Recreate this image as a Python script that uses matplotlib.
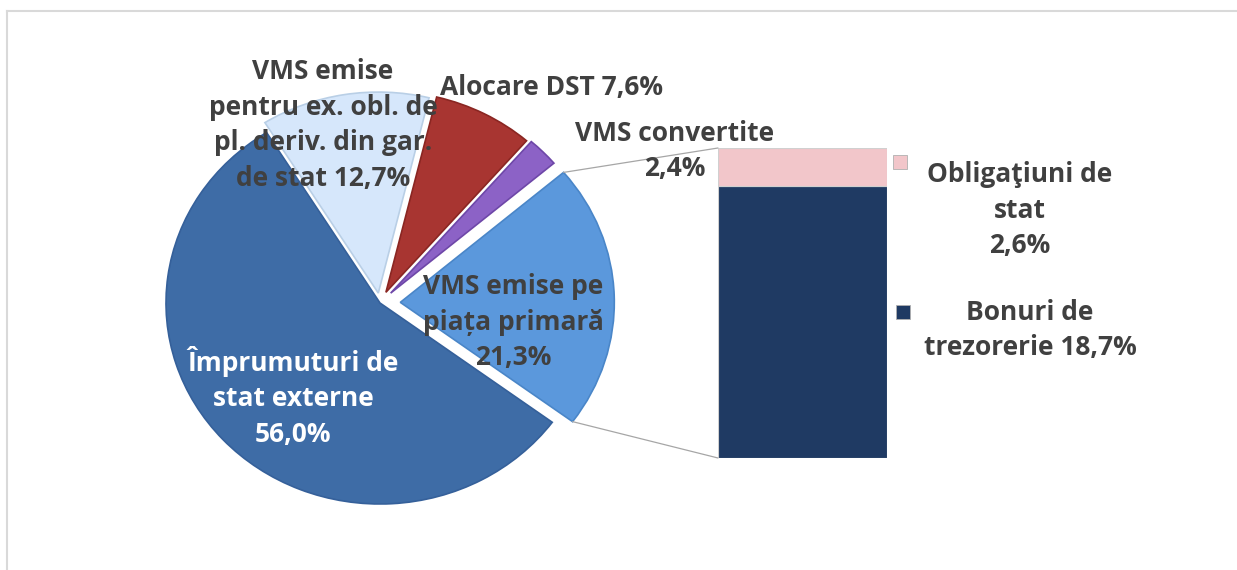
import numpy as np
import matplotlib.pyplot as plt
from matplotlib.patches import ConnectionPatch, Rectangle
from matplotlib.lines import Line2D

# Pie data (share of total, %)
pie_labels = ['Împrumuturi de\nstat externe\n56,0%',
              'VMS emise pe\npiața primară\n21,3%',
              'VMS convertite\n2,4%',
              'Alocare DST 7,6%',
              'VMS emise\npentru ex. obl. de\npl. deriv. din gar.\nde stat 12,7%']
pie_values = [56.0, 21.3, 2.4, 7.6, 12.7]
pie_colors = ['#3E6CA6', '#5B98DC', '#8C62C6', '#A83531', '#D6E7FB']
pie_edges = ['#35609A', '#4A86C8', '#6E47A8', '#8A2622', '#B9CFE6']
explode = [0.0, 0.095, 0.07, 0.06, 0.05]

# Bar breakdown of "VMS emise pe piata primara"
bar_labels = ['Bonuri de\ntrezorerie 18,7%', 'Obligaţiuni de\nstat\n2,6%']
bar_values = [18.7, 2.6]
bar_colors = ['#1F3A63', '#F2C6CA']

W, H = 1237, 570
plt.rcParams['font.family'] = ['Open Sans', 'DejaVu Sans']
fig = plt.figure(figsize=(W / 100, H / 100), dpi=100)
fig.patch.set_facecolor('white')

def fx(x):
    return x / W

def fy(y):
    return 1 - y / H

# pie axes: centre at (380, 303) px, slightly wider than tall
Rx, Ry = 214, 201
cx, cy = 380, 303
half = 1.25
ax = fig.add_axes([fx(cx - half * Rx), fy(cy + half * Ry), 2 * half * Rx / W, 2 * half * Ry / H])
wedges, _ = ax.pie(pie_values, explode=explode, colors=pie_colors, startangle=122,
                   counterclock=True, radius=1,
                   wedgeprops=dict(linewidth=1.2))
for w, ec in zip(wedges, pie_edges):
    w.set_edgecolor(ec)
ax.set_aspect('auto')
ax.set_xlim(-half, half)
ax.set_ylim(-half, half)
ax.axis('off')

# bar axes
bx0, bx1, by0, by1 = 718, 887, 148, 458
axb = fig.add_axes([fx(bx0), fy(by1), (bx1 - bx0) / W, (by1 - by0) / H])
bottom = 0
for v, c in zip(bar_values, bar_colors):
    axb.bar(0, v, width=1, bottom=bottom, color=c, edgecolor='#D0D0D0', linewidth=0.8)
    bottom += v
axb.set_xlim(-0.5, 0.5)
axb.set_ylim(0, sum(bar_values))
axb.axis('off')

# connection lines from the primary-market wedge to the bar
wp = wedges[1]
c0 = np.array(wp.center)
for theta, ybar in [(wp.theta2, sum(bar_values)), (wp.theta1, 0)]:
    t = np.deg2rad(theta)
    pa = c0 + wp.r * np.array([np.cos(t), np.sin(t)])
    con = ConnectionPatch(xyA=pa, coordsA=ax.transData, xyB=(-0.5, ybar), coordsB=axb.transData,
                          color='#A6A6A6', lw=0.9)
    fig.add_artist(con)

txt = dict(fontsize=19, fontweight='bold', color='#404040', ha='center', va='center',
           linespacing=1.42)

# pie labels (pixel positions of label centres)
label_pos = [(293, 397), (513, 322), (675, 151), (551, 88), (323, 125)]
for lab, (x, y) in zip(pie_labels, label_pos):
    kw = dict(txt)
    if lab.startswith('Împrumuturi'):
        kw['color'] = 'white'
    fig.text(fx(x), fy(y), lab, **kw)

# legend for the bar
legend_pos = [((903, 312), (1030, 330)), ((900, 162), (1020, 210))]
for lab, c, ((mx, my), (tx, ty)) in zip(bar_labels, bar_colors, legend_pos):
    fig.add_artist(Rectangle((fx(mx - 7), fy(my + 7)), 14 / W, 14 / H, transform=fig.transFigure,
                             facecolor=c, edgecolor='#B0B0B0', linewidth=0.6))
    fig.text(fx(tx), fy(ty), lab, **txt)

# light frame
fig.add_artist(Line2D([fx(7), 1], [fy(11), fy(11)], transform=fig.transFigure, color='#D9D9D9', lw=1.5))
fig.add_artist(Line2D([fx(7), fx(7)], [fy(11), 0], transform=fig.transFigure, color='#D9D9D9', lw=1.5))

fig.savefig('out.png', dpi=100, facecolor='white')
